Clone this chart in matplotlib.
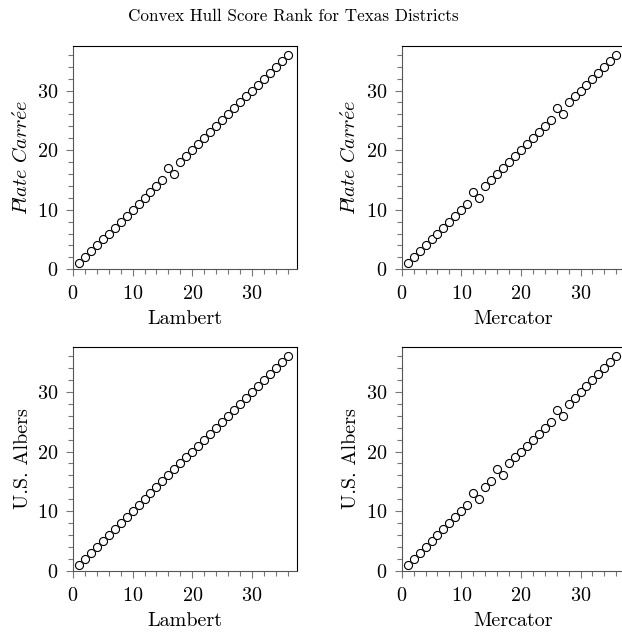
import matplotlib
matplotlib.use("Agg")
import matplotlib.pyplot as plt
from matplotlib.ticker import MultipleLocator

plt.rcParams['font.family'] = ['cmr10', 'DejaVu Serif']
plt.rcParams['mathtext.fontset'] = 'cm'
plt.rcParams['axes.formatter.use_mathtext'] = True

# rank of each district under each projection
lambert  = list(range(1, 37))
mercator = list(range(1, 37))
plate_vs_lambert  = [1, 2, 3, 4, 5, 6, 7, 8, 9, 10, 11, 12, 13, 14, 15, 17, 16, 18,
                     19, 20, 21, 22, 23, 24, 25, 26, 27, 28, 29, 30, 31, 32, 33, 34, 35, 36]
plate_vs_mercator = [1, 2, 3, 4, 5, 6, 7, 8, 9, 10, 11, 13, 12, 14, 15, 16, 17, 18,
                     19, 20, 21, 22, 23, 24, 25, 27, 26, 28, 29, 30, 31, 32, 33, 34, 35, 36]
albers_vs_lambert  = list(range(1, 37))
albers_vs_mercator = [1, 2, 3, 4, 5, 6, 7, 8, 9, 10, 11, 13, 12, 14, 15, 17, 16, 18,
                      19, 20, 21, 22, 23, 24, 25, 27, 26, 28, 29, 30, 31, 32, 33, 34, 35, 36]

plate_label = r'$\mathit{Plate\ Carr\acute{e}e}$'
panels = [
    (lambert,  plate_vs_lambert,   'Lambert',  plate_label),
    (mercator, plate_vs_mercator,  'Mercator', plate_label),
    (lambert,  albers_vs_lambert,  'Lambert',  'U.S. Albers'),
    (mercator, albers_vs_mercator, 'Mercator', 'U.S. Albers'),
]

W, H = 622, 633
fig = plt.figure(figsize=(W / 100, H / 100), dpi=100)
fig.text(293 / W, 1 - 16 / H, 'Convex Hull Score Rank for Texas Districts',
         ha='center', va='center', fontsize=12.3)

lefts = [73, 401.7]
bottoms = [H - 269.3, H - 570.7]
size = 223.5

for i, (x, y, xl, yl) in enumerate(panels):
    r, c = divmod(i, 2)
    ax = fig.add_axes([lefts[c] / W, bottoms[r] / H, size / W, size / H])
    ax.plot(x, y, 'o', mfc='white', mec='black', ms=5.8, mew=0.8, ls='none')
    ax.set_xlim(0, 37.5)
    ax.set_ylim(0, 37.5)
    ax.xaxis.set_major_locator(MultipleLocator(10))
    ax.yaxis.set_major_locator(MultipleLocator(10))
    ax.xaxis.set_minor_locator(MultipleLocator(2))
    ax.yaxis.set_minor_locator(MultipleLocator(2))
    ax.tick_params(which='major', length=5, width=0.8, color='#777777', labelsize=14.5)
    ax.tick_params(axis='x', which='major', pad=6.5)
    ax.tick_params(axis='y', which='major', pad=5.5)
    ax.tick_params(which='minor', length=3.5, width=0.8, color='#777777')
    for s in ['left', 'bottom']:
        ax.spines[s].set_color('#555555')
    for s in ['top', 'right']:
        ax.spines[s].set_color('black')
    ax.set_xlabel(xl, fontsize=14.5, labelpad=5)
    ax.set_ylabel(yl, fontsize=14.5, labelpad=4)

fig.savefig('out.png', dpi=100)
